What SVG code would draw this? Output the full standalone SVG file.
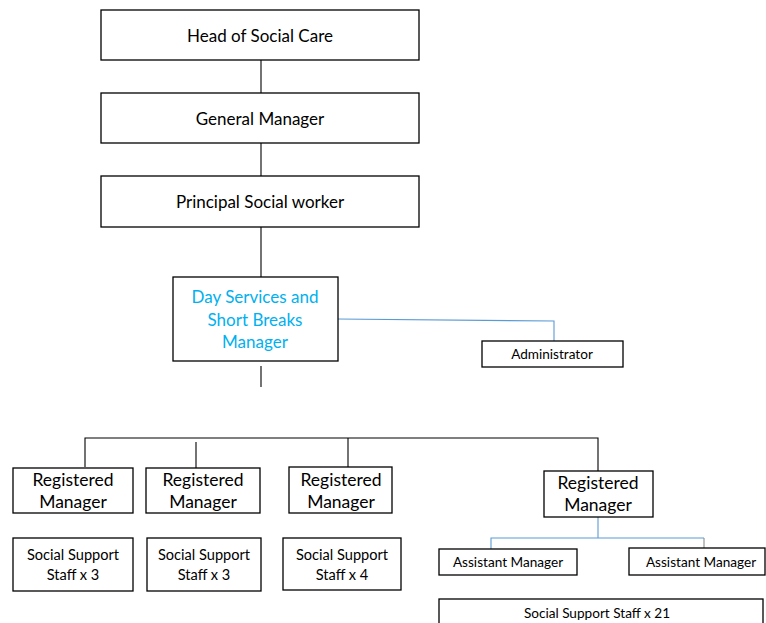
<svg xmlns="http://www.w3.org/2000/svg" width="766" height="623" viewBox="0 0 766 623">
  <style>
    .box { fill: #ffffff; stroke: #000000; stroke-width: 1.3; }
    .ln { fill: none; stroke: #000000; stroke-width: 1.1; }
    .bl { fill: none; stroke: #5b9bd5; stroke-width: 1.1; }
    text { font-family: Lato, "Liberation Sans", sans-serif; fill: #000000; text-anchor: middle; }
    .t16 { font-size: 17px; }
    .t17 { font-size: 17.5px; }
    .t14 { font-size: 14.6px; }
    .t13 { font-size: 13.6px; }
    .t21 { font-size: 13.6px; }
    .blue { fill: #00b0f0; }
  </style>

  <g id="connectors">
    <line class="ln" x1="261" y1="60" x2="261" y2="93"/>
    <line class="ln" x1="261" y1="143" x2="261" y2="176"/>
    <line class="ln" x1="261" y1="227" x2="261" y2="258" stroke-width="1.8"/>
    <line class="ln" x1="261" y1="258" x2="261" y2="277"/>
    <polyline class="bl" points="337,319 554,321 554,341"/>
    <line class="ln" x1="261" y1="366" x2="261" y2="387"/>
    <polyline class="ln" points="85,467 85,438 598,438 598,471"/>
    <line class="ln" x1="196" y1="442" x2="196" y2="468"/>
    <line class="ln" x1="348" y1="438" x2="348" y2="467"/>
    <line class="bl" x1="598" y1="517" x2="598" y2="538"/>
    <polyline class="bl" points="491,549 491,538 704,538"/>
    <line x1="704" y1="538" x2="704" y2="548" stroke="#8c8c8c" stroke-width="1.1"/>
  </g>

  <g id="head-of-social-care">
    <rect class="box" x="101" y="10" width="318" height="50"/>
    <text class="t16" x="260" y="42">Head of Social Care</text>
  </g>

  <g id="general-manager">
    <rect class="box" x="101" y="93" width="318" height="50"/>
    <text class="t16" x="260" y="125">General Manager</text>
  </g>

  <g id="principal-social-worker">
    <rect class="box" x="101" y="176" width="318" height="51"/>
    <text class="t16" x="260" y="208">Principal Social worker</text>
  </g>

  <g id="day-services-manager">
    <rect class="box" x="173" y="277" width="165" height="84"/>
    <text class="t16 blue" x="255" y="303">Day Services and</text>
    <text class="t16 blue" x="255" y="326">Short Breaks</text>
    <text class="t16 blue" x="255" y="348">Manager</text>
  </g>

  <g id="administrator">
    <rect class="box" x="482" y="341" width="141" height="26"/>
    <text class="t13" x="552" y="359">Administrator</text>
  </g>

  <g id="registered-manager-1">
    <rect class="box" x="13" y="468" width="120" height="45"/>
    <text class="t17" x="73" y="486">Registered</text>
    <text class="t17" x="73" y="508">Manager</text>
  </g>

  <g id="registered-manager-2">
    <rect class="box" x="146" y="468" width="114" height="45"/>
    <text class="t17" x="203" y="486">Registered</text>
    <text class="t17" x="203" y="508">Manager</text>
  </g>

  <g id="registered-manager-3">
    <rect class="box" x="289" y="467" width="103" height="46"/>
    <text class="t17" x="341" y="486">Registered</text>
    <text class="t17" x="341" y="508">Manager</text>
  </g>

  <g id="registered-manager-4">
    <rect class="box" x="544" y="471" width="109" height="46"/>
    <text class="t17" x="598" y="489">Registered</text>
    <text class="t17" x="598" y="511">Manager</text>
  </g>

  <g id="social-support-staff-1">
    <rect class="box" x="13" y="538" width="120" height="53"/>
    <text class="t14" x="73" y="560">Social Support</text>
    <text class="t14" x="73" y="580">Staff x 3</text>
  </g>

  <g id="social-support-staff-2">
    <rect class="box" x="147" y="538" width="114" height="53"/>
    <text class="t14" x="204" y="560">Social Support</text>
    <text class="t14" x="204" y="580">Staff x 3</text>
  </g>

  <g id="social-support-staff-3">
    <rect class="box" x="283" y="538" width="118" height="52"/>
    <text class="t14" x="342" y="560">Social Support</text>
    <text class="t14" x="342" y="580">Staff x 4</text>
  </g>

  <g id="assistant-manager-1">
    <rect class="box" x="439" y="549" width="138" height="26"/>
    <text class="t13" x="508" y="567">Assistant Manager</text>
  </g>

  <g id="assistant-manager-2">
    <rect class="box" x="629" y="548" width="136" height="27"/>
    <text class="t13" x="701" y="567">Assistant Manager</text>
  </g>

  <g id="social-support-staff-21">
    <rect class="box" x="439" y="599" width="324" height="30"/>
    <text class="t21" x="597" y="618">Social Support Staff x 21</text>
  </g>
</svg>
